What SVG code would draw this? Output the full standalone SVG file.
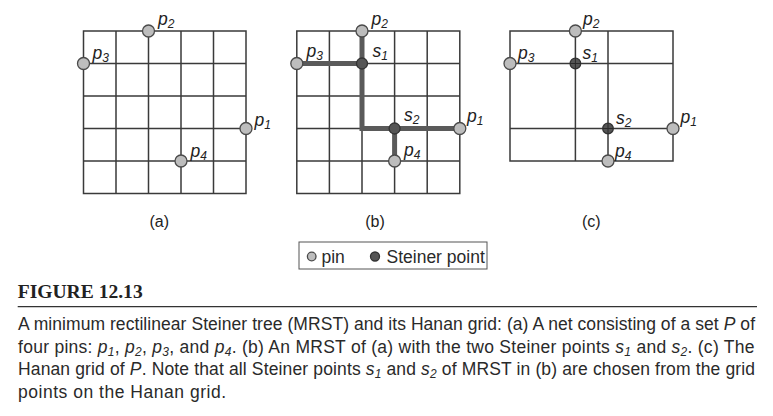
<svg xmlns="http://www.w3.org/2000/svg" width="773" height="416" viewBox="0 0 773 416">
<style>
.grid{stroke:#3a3a3a;stroke-width:1.5;fill:none}
.pin{fill:#bdbdbd;stroke:#4a4a4a;stroke-width:1.3}
.stn{fill:#555;stroke:#333;stroke-width:1.3}
.tree{stroke:#5a5a5a;stroke-width:5;fill:none;stroke-linejoin:miter;stroke-linecap:butt}
.lbl{font-family:"Liberation Sans",Arial,sans-serif;font-style:italic;font-size:17.5px;fill:#222}
.sub{font-size:12px}
.cap{font-family:"Liberation Sans",Arial,sans-serif;font-size:16px;fill:#222}
.body{font-family:"Liberation Sans",Arial,sans-serif;font-size:17.5px;fill:#2a2a2a}
.it{font-style:italic}
.bsub{font-size:12px;font-style:italic}
.fig{font-family:"Liberation Serif","Times New Roman",serif;font-weight:bold;font-size:19.5px;fill:#222}
</style>
<rect width="773" height="416" fill="#fff"/>

<!-- Grid (a) -->
<g id="grid-a" class="grid">
<rect x="83.5" y="31" width="162.5" height="162.5"/>
<path d="M116 31V193.5M148.5 31V193.5M181 31V193.5M213.5 31V193.5M83.5 63.5H246M83.5 96H246M83.5 128.5H246M83.5 161H246"/>
</g>
<!-- Grid (b) -->
<g id="grid-b" class="grid">
<rect x="296.8" y="31" width="163" height="162.5"/>
<path d="M329.4 31V193.5M362 31V193.5M394.6 31V193.5M427.2 31V193.5M296.8 63.5H459.8M296.8 96H459.8M296.8 128.5H459.8M296.8 161H459.8"/>
</g>
<!-- Grid (c) Hanan grid -->
<g id="grid-c" class="grid">
<rect x="510" y="31" width="163" height="130"/>
<path d="M575.4 31V161M608 31V161M510 63.5H673M510 128.5H673"/>
</g>

<!-- Connectors: MRST in (b) -->
<g id="connectors">
<path class="tree" d="M296.8 63.5H362"/>
<path class="tree" d="M362 31V128.5H459.8"/>
<path class="tree" d="M394.6 128.5V161"/>
</g>

<!-- Nodes (a) -->
<g id="a-p1"><circle class="pin" cx="246" cy="128.5" r="6"/><text class="lbl" x="254.5" y="126">p<tspan class="sub" dy="3">1</tspan></text></g>
<g id="a-p2"><circle class="pin" cx="148.5" cy="31" r="6"/><text class="lbl" x="158" y="25">p<tspan class="sub" dy="3">2</tspan></text></g>
<g id="a-p3"><circle class="pin" cx="83.5" cy="63.5" r="6"/><text class="lbl" x="92.5" y="58.5">p<tspan class="sub" dy="3">3</tspan></text></g>
<g id="a-p4"><circle class="pin" cx="181" cy="161" r="6"/><text class="lbl" x="190.5" y="156.5">p<tspan class="sub" dy="3">4</tspan></text></g>

<!-- Nodes (b) -->
<g id="b-p1"><circle class="pin" cx="459.8" cy="128.5" r="6"/><text class="lbl" x="467" y="121.5">p<tspan class="sub" dy="3">1</tspan></text></g>
<g id="b-p2"><circle class="pin" cx="362" cy="31" r="6"/><text class="lbl" x="371.5" y="25">p<tspan class="sub" dy="3">2</tspan></text></g>
<g id="b-p3"><circle class="pin" cx="296.8" cy="63.5" r="6"/><text class="lbl" x="306.5" y="56.5">p<tspan class="sub" dy="3">3</tspan></text></g>
<g id="b-p4"><circle class="pin" cx="394.6" cy="161" r="6"/><text class="lbl" x="404" y="155.5">p<tspan class="sub" dy="3">4</tspan></text></g>
<g id="b-s1"><circle class="stn" cx="362" cy="63.5" r="5.5"/><text class="lbl" x="372.5" y="56.5">s<tspan class="sub" dy="3">1</tspan></text></g>
<g id="b-s2"><circle class="stn" cx="394.6" cy="128.5" r="5.5"/><text class="lbl" x="404" y="121">s<tspan class="sub" dy="3">2</tspan></text></g>

<!-- Nodes (c) -->
<g id="c-p1"><circle class="pin" cx="673" cy="128.5" r="6"/><text class="lbl" x="680.5" y="123">p<tspan class="sub" dy="3">1</tspan></text></g>
<g id="c-p2"><circle class="pin" cx="575.4" cy="31" r="6"/><text class="lbl" x="583" y="25">p<tspan class="sub" dy="3">2</tspan></text></g>
<g id="c-p3"><circle class="pin" cx="510" cy="63.5" r="6"/><text class="lbl" x="518" y="59">p<tspan class="sub" dy="3">3</tspan></text></g>
<g id="c-p4"><circle class="pin" cx="608" cy="161" r="6"/><text class="lbl" x="615" y="156.5">p<tspan class="sub" dy="3">4</tspan></text></g>
<g id="c-s1"><circle class="stn" cx="575.4" cy="63.5" r="5.3"/><path d="M570.1 63.5H580.7M575.4 58.2V68.8" stroke="#2a2a2a" stroke-width="1"/><text class="lbl" x="582.5" y="59">s<tspan class="sub" dy="3">1</tspan></text></g>
<g id="c-s2"><circle class="stn" cx="608" cy="128.5" r="5.3"/><path d="M602.7 128.5H613.3M608 123.2V133.8" stroke="#2a2a2a" stroke-width="1"/><text class="lbl" x="616" y="124">s<tspan class="sub" dy="3">2</tspan></text></g>

<!-- Sub-figure labels -->
<text class="cap" x="159.3" y="226.5" text-anchor="middle">(a)</text>
<text class="cap" x="375" y="226.5" text-anchor="middle">(b)</text>
<text class="cap" x="591.3" y="226.5" text-anchor="middle">(c)</text>

<!-- Legend -->
<g id="legend">
<rect x="299" y="242" width="188" height="27" fill="#fff" stroke="#555" stroke-width="1"/>
<circle class="pin" cx="311.7" cy="256.5" r="4.3"/>
<text class="body" x="321.5" y="263" font-size="17">pin</text>
<circle class="stn" cx="375" cy="256.5" r="4.5"/>
<text class="body" x="386.5" y="263" font-size="17">Steiner point</text>
</g>

<!-- Caption -->
<text class="fig" x="17.7" y="298.3" textLength="125" lengthAdjust="spacingAndGlyphs">FIGURE 12.13</text>
<line x1="17.7" y1="306.7" x2="757" y2="306.7" stroke="#333" stroke-width="1.3"/>
<text class="body" x="18" y="330" textLength="737" lengthAdjust="spacing">A minimum rectilinear Steiner tree (MRST) and its Hanan grid: (a) A net consisting of a set <tspan class="it">P</tspan> of</text>
<text class="body" x="18" y="352.5" textLength="736.5" lengthAdjust="spacing">four pins: <tspan class="it">p</tspan><tspan class="bsub" dy="3">1</tspan><tspan dy="-3">, </tspan><tspan class="it">p</tspan><tspan class="bsub" dy="3">2</tspan><tspan dy="-3">, </tspan><tspan class="it">p</tspan><tspan class="bsub" dy="3">3</tspan><tspan dy="-3">, and </tspan><tspan class="it">p</tspan><tspan class="bsub" dy="3">4</tspan><tspan dy="-3">. (b) An MRST of (a) with the two Steiner points </tspan><tspan class="it">s</tspan><tspan class="bsub" dy="3">1</tspan><tspan dy="-3"> and </tspan><tspan class="it">s</tspan><tspan class="bsub" dy="3">2</tspan><tspan dy="-3">. (c) The</tspan></text>
<text class="body" x="18" y="375" textLength="737" lengthAdjust="spacing">Hanan grid of <tspan class="it">P</tspan>. Note that all Steiner points <tspan class="it">s</tspan><tspan class="bsub" dy="3">1</tspan><tspan dy="-3"> and </tspan><tspan class="it">s</tspan><tspan class="bsub" dy="3">2</tspan><tspan dy="-3"> of MRST in (b) are chosen from the grid</tspan></text>
<text class="body" x="18" y="397.5" textLength="208" lengthAdjust="spacing">points on the Hanan grid.</text>
</svg>
